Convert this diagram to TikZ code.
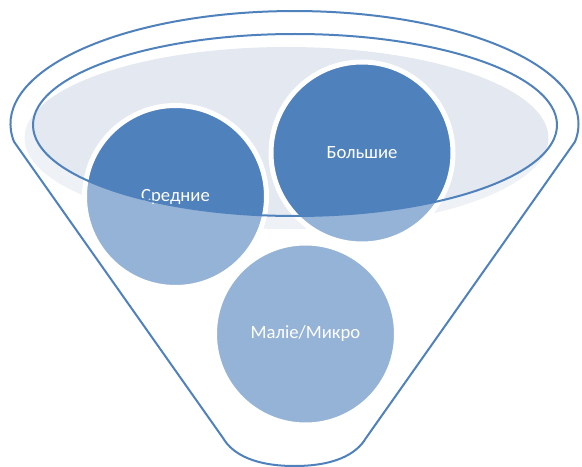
\documentclass[tikz,border=0pt]{standalone}
\usepackage{fontspec}
\setmainfont{Carlito}

\definecolor{funnelblue}{HTML}{4F81BD}
\definecolor{rimfill}{HTML}{E3E8F1}

\tikzset{
  bubble/.style={circle, fill=funnelblue, draw=white, line width=3.75pt,
    minimum size=136.5pt, inner sep=0pt, outer sep=0pt, text=white,
    font=\fontsize{14}{17}\selectfont},
  rim/.style={draw=funnelblue, line width=1.5pt},
  glass/.style={fill=white, fill opacity=0.4, even odd rule},
}

\begin{document}
\begin{tikzpicture}[x=0.75pt,y=-0.75pt]
%\draw[step=50,gray,very thin] (0,0) grid (582,467);
\useasboundingbox (0,0) rectangle (582,467);

% liquid in the funnel
\fill[rimfill] (286.5,138) ellipse[x radius=262, y radius=91];

% the three balls
\node[bubble] (mid) at (175.5,196.5) {Средние};
\node[bubble] (big) at (362,153) {Большие};
\node[bubble] (small) at (305.5,334) {Малiе/Микро};

% funnel body, seen through
\fill[glass] (14,141.7) arc[start angle=171, end angle=369, x radius=284, y radius=113]
  -- (366,438) .. controls (356,455) and (333,466) .. (294.5,466)
  .. controls (256,466) and (233,455) .. (223,438) -- cycle
  (295,125) ellipse[x radius=262, y radius=91];

% outlines
\draw[rim] (14,141.7) arc[start angle=171, end angle=369, x radius=284, y radius=113]
  -- (366,438) .. controls (356,455) and (333,466) .. (294.5,466)
  .. controls (256,466) and (233,455) .. (223,438) -- cycle;
\draw[rim] (295,125) ellipse[x radius=262, y radius=91];

\end{tikzpicture}
\end{document}
